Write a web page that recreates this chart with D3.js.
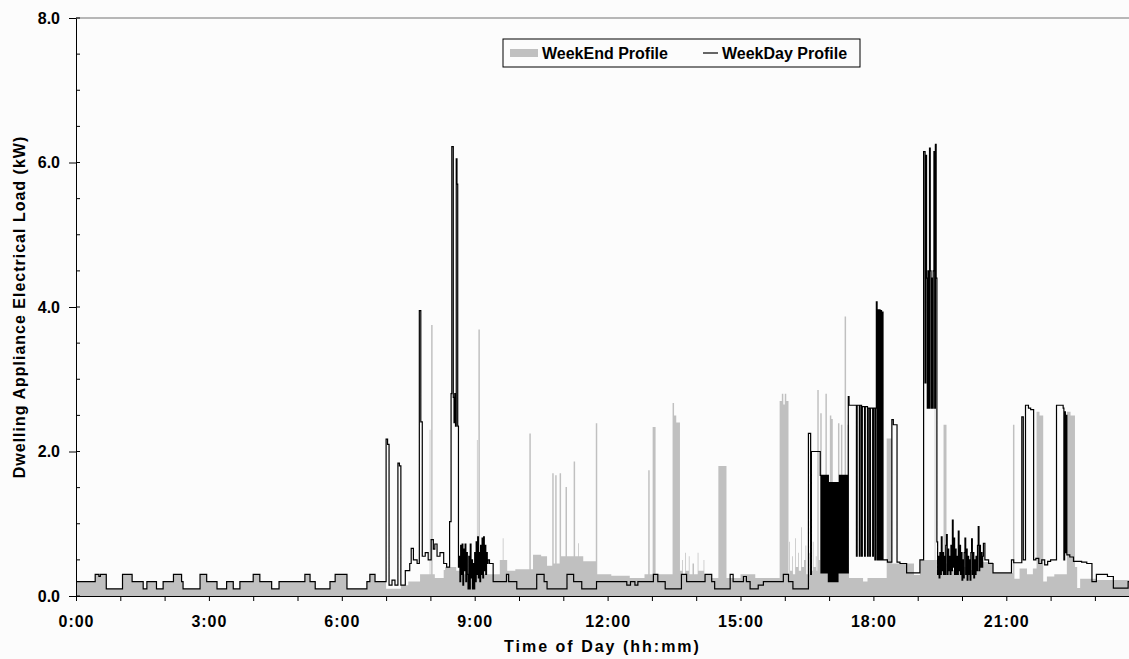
<!DOCTYPE html>
<html lang="en">
<head>
<meta charset="UTF-8" />
<title>Dwelling Appliance Electrical Load</title>
<style>
  body { margin: 0; background: #fcfcfc; }
  svg { display: block; font-family: "Liberation Sans", Arial, sans-serif; }
</style>
</head>
<body>
<svg id="chart"></svg>
<script src="https://cdnjs.cloudflare.com/ajax/libs/d3/7.8.5/d3.min.js"></script>
<script>
// step profiles: [time the level starts, kW]
const nightCycle = [
  ["0:00",0.2],["0:26",0.3],["0:31",0.27],["0:33",0.3],["0:41",0.1],["1:03",0.3],["1:16",0.2],
  ["1:31",0.1],["1:36",0.2],["1:49",0.1],["1:58",0.2],["2:12",0.3],["2:23",0.2],["2:25",0.1],
  ["2:48",0.3],["2:57",0.2],["3:11",0.1],["3:24",0.2],["3:33",0.1],["3:42",0.2],["4:00",0.3],
  ["4:09",0.2],["4:25",0.1],["4:35",0.2],["5:10",0.3],["5:17",0.2],["5:24",0.1],["5:44",0.2],
  ["5:51",0.3],["6:07",0.1],["6:34",0.2],["6:38",0.3],["6:45",0.2]
];

const weekdayMorning = [
  ["7:00",2.17],["7:02",2.1],["7:04",0.15],["7:08",0.22],["7:12",0.15],["7:16",1.84],["7:18",1.8],
  ["7:20",0.15],["7:26",0.35],["7:32",0.45],["7:34",0.66],["7:37",0.5],["7:42",0.45],["7:45",3.95],
  ["7:47",2.41],["7:49",0.55],["7:53",0.6],["7:57",0.5],["8:01",0.78],["8:04",0.65],["8:06",0.72],
  ["8:09",0.55],["8:13",0.6],["8:18",0.45],["8:22",0.4],["8:26",1.03],["8:28",2.8],["8:29",6.22],
  ["8:31",2.75],["8:32",2.4],["8:33",2.8],["8:34",2.35],["8:35",6.05],["8:36",5.7],["8:37",2.35],
  ["8:38",0.4],["8:39",0.55],["8:40",0.2],["8:41",0.7],["8:42",0.3],["8:43",0.72],["8:44",0.15],
  ["8:45",0.65],["8:46",0.35],["8:47",0.72],["8:48",0.2],["8:49",0.6],["8:50",0.3],["8:51",0.1],
  ["8:52",0.55],["8:53",0.1],["8:54",0.72],["8:55",0.25],["8:56",0.5],["8:57",0.1],["8:58",0.45],
  ["8:59",0.1],["9:00",0.6],["9:01",0.2],["9:02",0.75],["9:03",0.3],["9:04",0.82],["9:05",0.25],
  ["9:06",0.6],["9:07",0.2],["9:08",0.7],["9:09",0.3],["9:10",0.8],["9:11",0.25],["9:12",0.82],
  ["9:13",0.35],["9:14",0.7],["9:15",0.3],["9:16",0.6],["9:17",0.45],["9:18",0.5],["9:20",0.45]
];

const weekdayDaytime = [
  ["9:25",0.2],["9:43",0.3],["9:46",0.2],["9:57",0.1],["10:24",0.3],["10:34",0.2],["10:38",0.1],
  ["11:05",0.3],["11:14",0.2],["11:25",0.1],["11:45",0.2],["12:26",0.15],["12:31",0.2],["12:37",0.15],
  ["12:41",0.2],["13:02",0.3],["13:08",0.2],["13:18",0.1],["13:40",0.3],["13:47",0.2],["14:12",0.3],
  ["14:21",0.2],["14:25",0.1],["14:46",0.3],["14:50",0.2],["15:04",0.27],["15:08",0.2],["15:13",0.1],
  ["15:24",0.15],["15:31",0.2],["15:58",0.3],["16:05",0.2],["16:11",0.1],["16:32",2.25],["16:35",0.3],
  ["16:36",2.0]
];

const weekdayEvening = [
  ["16:48",1.67],["16:49",0.32],["16:50",1.67],["16:51",0.32],["16:52",1.67],["16:53",0.32],
  ["16:54",1.67],["16:55",0.32],["16:56",1.67],["16:57",0.32],["16:58",1.67],["16:59",0.2],
  ["17:00",1.57],["17:01",0.2],["17:02",1.57],["17:03",0.2],["17:04",1.57],["17:05",0.2],
  ["17:06",1.57],["17:07",0.2],["17:08",1.57],["17:09",0.2],["17:10",1.57],["17:11",0.2],
  ["17:12",1.57],["17:13",0.32],["17:14",1.67],["17:15",0.32],["17:16",1.67],["17:17",0.32],
  ["17:18",1.67],["17:19",0.32],["17:20",1.67],["17:21",0.32],["17:22",1.67],["17:23",0.32],
  ["17:24",1.67],["17:25",0.32],["17:26",2.76],["17:27",2.64],["17:37",0.55],["17:38",2.64],
  ["17:41",0.55],["17:42",2.64],["17:44",0.55],["17:45",2.62],["17:48",0.55],["17:49",2.62],
  ["17:52",0.55],["17:53",2.6],["17:55",0.55],["17:56",2.6],["17:59",0.55],["18:00",2.6],
  ["18:02",0.5],["18:03",2.6],["18:04",4.07],["18:05",0.5],["18:06",3.96],["18:07",0.5],
  ["18:08",3.96],["18:09",0.5],["18:10",3.95],["18:11",0.5],["18:12",3.93],["18:13",0.5],
  ["18:19",0.47],["18:25",2.44],["18:27",2.37],["18:32",0.47],["18:36",0.45],["18:45",0.32],
  ["19:03",0.5],["19:08",6.15],["19:10",2.95],["19:11",6.1],["19:12",4.4],["19:13",2.6],
  ["19:14",4.5],["19:15",2.6],["19:16",6.2],["19:17",4.5],["19:18",2.6],["19:19",4.4],
  ["19:20",2.6],["19:21",4.5],["19:22",6.15],["19:23",2.6],["19:24",6.25],["19:25",4.4],
  ["19:26",0.75],["19:27",0.3],["19:28",0.55],["19:29",0.25],["19:30",0.6],["19:31",0.3],
  ["19:32",0.82],["19:33",0.35],["19:34",0.6],["19:35",0.3],["19:36",0.55],["19:37",0.3],["19:38",0.7],
  ["19:39",0.85],["19:40",0.3],["19:41",0.65],["19:42",0.35],["19:43",0.55],["19:44",0.3],["19:45",0.7],
  ["19:46",0.35],["19:47",1.05],["19:48",0.4],["19:49",0.8],["19:50",0.3],["19:51",0.65],["19:52",0.3],
  ["19:53",0.55],["19:54",0.3],["19:55",0.9],["19:56",0.35],["19:57",0.7],["19:58",0.3],["19:59",0.6],
  ["20:00",0.22],["20:01",0.5],["20:02",0.25],["20:03",0.6],["20:04",0.8],["20:05",0.3],["20:06",0.65],
  ["20:07",0.22],["20:08",0.55],["20:09",0.3],["20:10",0.5],["20:11",0.22],["20:12",0.6],["20:13",0.79],
  ["20:14",0.3],["20:15",0.6],["20:16",0.25],["20:17",0.5],["20:18",0.3],["20:19",0.55],["20:20",0.35],
  ["20:21",0.7],["20:22",0.96],["20:23",0.35],["20:24",0.7],["20:25",0.4],["20:26",0.6],["20:27",0.4],
  ["20:28",0.55],["20:29",0.73],["20:31",0.5],["20:36",0.45],["20:42",0.32],["21:07",0.5],["21:10",0.46],
  ["21:21",2.48],["21:23",0.5],["21:26",2.64],["21:30",2.6],["21:33",2.58],["21:37",0.5],["21:40",0.52],
  ["21:44",0.45],["21:48",0.5],["21:52",0.43],["21:56",0.48],["22:00",0.5],["22:08",2.64],["22:17",2.6],
  ["22:18",0.5],["22:19",2.55],["22:20",0.6],["22:21",2.5],["22:22",0.57],["22:26",0.54],["22:31",0.48],
  ["22:42",0.47],["22:49",0.45],["22:56",0.2],["23:02",0.3],["23:17",0.27],["23:25",0.11],["23:45",0.2]
];

const weekendMorning = [
  ["7:00",0.1],["7:20",0.15],["7:30",0.2],["7:46",0.3],["7:59",2.3],["8:00",0.3],["8:01",3.75],
  ["8:03",0.3],["8:06",0.25],["8:18",0.36],["8:20",0.4],["8:35",0.35],["8:45",0.3],["9:03",2.16],
  ["9:04",0.35],["9:05",3.69],["9:07",0.35],["9:12",0.3]
];

const weekendDaytime = [
  ["9:20",0.3],["9:34",0.5],["9:38",0.8],["9:39",0.5],["9:44",0.35],["9:55",0.37],["10:14",2.25],
  ["10:16",0.37],["10:19",0.57],["10:30",0.55],["10:38",0.42],["10:45",1.7],["10:47",0.45],["10:49",1.67],
  ["10:51",0.45],["10:55",1.7],["10:57",0.55],["11:03",1.51],["11:05",0.55],["11:14",1.86],["11:16",0.55],
  ["11:20",0.73],["11:21",0.55],["11:27",0.48],["11:44",2.39],["11:46",0.3],["12:05",0.28],["12:30",0.25],
  ["12:50",0.3],["12:55",1.74],["12:57",0.3],["13:01",2.34],["13:05",0.3],["13:28",2.67],["13:30",2.5],
  ["13:33",2.4],["13:38",0.35],["13:41",0.5],["13:42",0.3],["13:45",0.6],["13:46",0.35],["13:50",0.55],
  ["13:51",0.3],["13:55",0.45],["13:57",0.3],["14:02",0.6],["14:03",0.35],["14:10",0.5],["14:11",0.3],
  ["14:20",0.25],["14:30",1.8],["14:41",0.25],["15:00",0.3],["15:20",0.25],["15:53",2.7],["15:56",2.8],
  ["15:58",2.65],["16:00",2.8],["16:02",2.7],["16:05",0.3],["16:06",0.75],["16:07",0.35],["16:10",0.55],
  ["16:11",0.3],["16:14",0.8],["16:15",0.4],["16:18",0.6],["16:19",0.35],["16:22",0.95],["16:23",0.4],
  ["16:26",0.5],["16:28",0.7],["16:29",0.3],["16:33",0.6],["16:34",0.35],["16:38",0.75],["16:39",0.4],
  ["16:42",0.55],["16:43",0.35]
];

const weekendEvening = [
  ["16:44",2.85],["16:46",0.5],["16:48",2.53],["16:50",0.5],["16:55",2.8],["16:57",0.6],["17:01",2.5],
  ["17:03",2.45],["17:05",0.6],["17:12",2.39],["17:14",0.5],["17:16",2.37],["17:18",0.5],["17:21",3.87],
  ["17:23",0.5],["17:25",2.37],["17:27",0.25],["17:46",0.2],["17:52",0.25],["18:18",2.18],["18:25",0.45],
  ["18:55",0.29],["19:03",0.5],["19:23",6.24],["19:24",0.5],["19:26",0.36],["19:35",2.37],["19:39",0.45],
  ["19:45",0.36],["20:00",0.4],["20:10",0.36],["20:24",0.47],["20:42",0.32],["21:09",2.37],["21:11",0.24],
  ["21:18",0.38],["21:28",0.3],["21:36",0.38],["21:41",2.55],["21:45",2.5],["21:50",0.2],["21:55",0.27],
  ["22:05",0.3],["22:22",2.55],["22:27",2.5],["22:33",0.4],["22:36",0.11],["22:40",0.24],["23:02",0.22]
];

const timeLabels = ["0:00", "3:00", "6:00", "9:00", "12:00", "15:00", "18:00", "21:00"];
const loadTicks = [0, 2, 4, 6, 8];

const width = 1129, height = 659;
const plotLeft = 76, plotTop = 18, plotBottom = 596;
const pxPerHour = 44.3;

const toMin = (s) => { const [h, m] = s.split(":"); return +h * 60 + +m; };
const build = (...parts) => {
  const pts = parts.flat().map(([t, v]) => ({ t: toMin(t), v }));
  pts.push({ t: 1440, v: pts[pts.length - 1].v });
  return pts;
};
const weekday = build(nightCycle, weekdayMorning, weekdayDaytime, weekdayEvening);
const weekend = build(nightCycle, weekendMorning, weekendDaytime, weekendEvening);

const x = d3.scaleLinear().domain([0, 1440]).range([plotLeft, plotLeft + 24 * pxPerHour]);
const y = d3.scaleLinear().domain([0, 8]).range([plotBottom, plotTop]);

const svg = d3.select("#chart").attr("width", width).attr("height", height);

svg.append("clipPath").attr("id", "plot")
  .append("rect").attr("x", plotLeft).attr("y", 0)
  .attr("width", width - plotLeft).attr("height", plotBottom);

svg.append("path")
  .datum(weekend)
  .attr("clip-path", "url(#plot)")
  .attr("fill", "#c0c0c0")
  .attr("d", d3.area().x(d => x(d.t)).y0(y(0)).y1(d => y(d.v)).curve(d3.curveStepAfter));

svg.append("path")
  .datum(weekday)
  .attr("clip-path", "url(#plot)")
  .attr("fill", "none")
  .attr("stroke", "#000")
  .attr("stroke-width", 1.2)
  .attr("d", d3.line().x(d => x(d.t)).y(d => y(d.v)).curve(d3.curveStepAfter));

// top frame line
svg.append("line")
  .attr("x1", plotLeft).attr("x2", width).attr("y1", plotTop).attr("y2", plotTop)
  .attr("stroke", "#a0a0a0").attr("stroke-width", 1.5);

// x axis
const xAxis = svg.append("g")
  .attr("transform", `translate(0,${plotBottom})`)
  .call(d3.axisBottom(x)
    .tickValues(d3.range(0, 24).map(h => h * 60))
    .tickFormat(m => (m % 180 === 0 ? timeLabels[m / 180] : ""))
    .tickSizeInner(5).tickSizeOuter(0));
xAxis.select(".domain").attr("stroke", "#000");
xAxis.selectAll("line").attr("stroke", "#000");
xAxis.selectAll("text")
  .attr("y", 31).attr("dy", 0)
  .attr("font-size", 16).attr("font-weight", "bold")
  .attr("letter-spacing", "1px").attr("fill", "#000");

// y axis
const yAxis = svg.append("g")
  .attr("transform", `translate(${plotLeft},0)`)
  .call(d3.axisLeft(y)
    .tickValues(loadTicks)
    .tickFormat(d3.format(".1f"))
    .tickSizeInner(7).tickSizeOuter(0).tickPadding(9));
yAxis.select(".domain").attr("stroke", "#000");
yAxis.selectAll("line").attr("stroke", "#000");
yAxis.selectAll("text")
  .attr("font-size", 16).attr("font-weight", "bold").attr("fill", "#000");
yAxis.selectAll(".minor")
  .data(d3.range(0, 8.01, 0.5))
  .join("line")
  .attr("class", "minor")
  .attr("x1", 0).attr("x2", 4)
  .attr("y1", d => y(d)).attr("y2", d => y(d))
  .attr("stroke", "#000");

// axis titles
svg.append("text")
  .attr("x", (plotLeft + width) / 2).attr("y", 652)
  .attr("text-anchor", "middle")
  .attr("font-size", 16).attr("font-weight", "bold").attr("letter-spacing", "2px")
  .text("Time of Day (hh:mm)");

svg.append("text")
  .attr("transform", `translate(25,${(plotTop + plotBottom) / 2}) rotate(-90)`)
  .attr("text-anchor", "middle")
  .attr("font-size", 16).attr("font-weight", "bold").attr("letter-spacing", "1px")
  .text("Dwelling Appliance Electrical Load (kW)");

// legend
const legend = svg.append("g").attr("transform", "translate(503,39)");
legend.append("rect")
  .attr("width", 357).attr("height", 28)
  .attr("fill", "#fcfcfc").attr("stroke", "#000");
legend.append("rect")
  .attr("x", 7).attr("y", 10).attr("width", 28).attr("height", 8)
  .attr("fill", "#c0c0c0");
legend.append("text")
  .attr("x", 39).attr("y", 20)
  .attr("font-size", 16).attr("font-weight", "bold")
  .text("WeekEnd Profile");
legend.append("line")
  .attr("x1", 200).attr("x2", 215).attr("y1", 14).attr("y2", 14)
  .attr("stroke", "#000").attr("stroke-width", 1.2);
legend.append("text")
  .attr("x", 219).attr("y", 20)
  .attr("font-size", 16).attr("font-weight", "bold")
  .text("WeekDay Profile");
</script>
</body>
</html>
